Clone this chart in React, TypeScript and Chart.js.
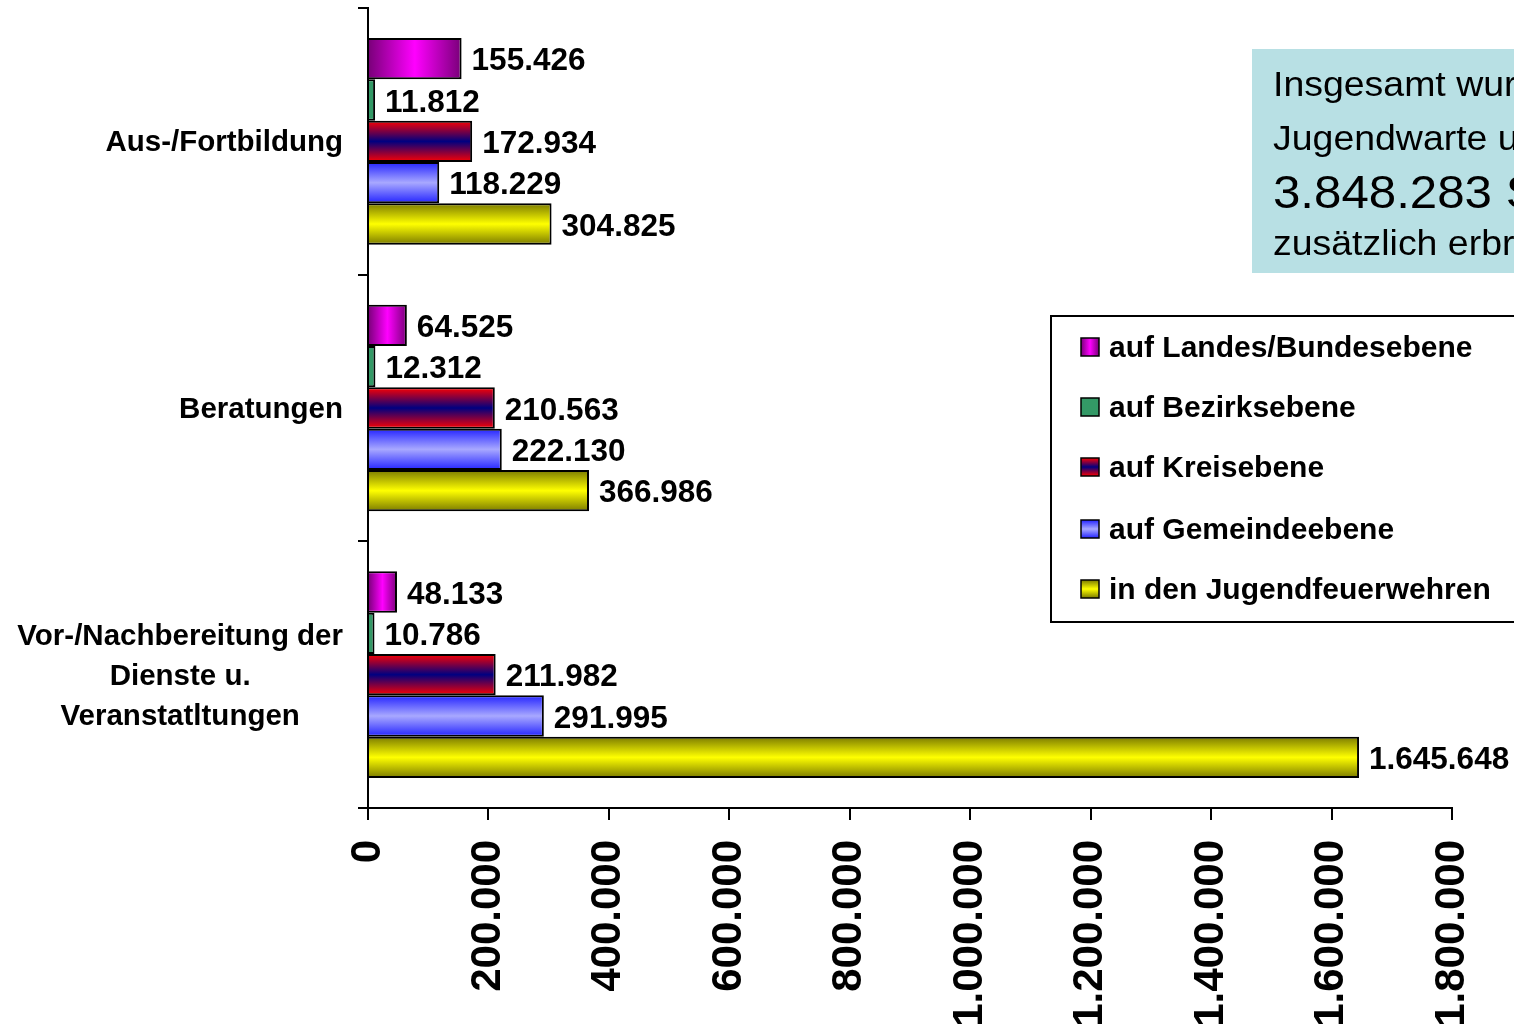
import React, { useEffect, useRef } from "react";
import { Chart, registerables } from "chart.js";

Chart.register(...registerables);

// ---------- data ----------
const categoryLines: string[][] = [
  ["Aus-/Fortbildung"],
  ["Beratungen"],
  ["Vor-/Nachbereitung der", "Dienste u.", "Veranstatltungen"],
];
const seriesNames = [
  "auf Landes/Bundesebene",
  "auf Bezirksebene",
  "auf Kreisebene",
  "auf Gemeindeebene",
  "in den Jugendfeuerwehren",
];
const landes = [155426, 64525, 48133];
const bezirk = [11812, 12312, 10786];
const kreis = [172934, 210563, 211982];
const gemeinde = [118229, 222130, 291995];
const jugendfw = [304825, 366986, 1645648];
const xMax = 1800000;
const xStep = 200000;
const infoLines = ["Insgesamt wurden", "Jugendwarte und", "3.848.283 Stunden", "zusätzlich erbracht"];

// ---------- styles ----------
const FONT = "'Liberation Sans', Arial, sans-serif";
const CAT_PCT = 0.775;
const seriesStyles = [
  { stops: ["#780078", "#ff00ff", "#780078"], dir: "h" },
  { stops: ["#339966", "#339966", "#339966"], dir: "v" },
  { stops: ["#ff0000", "#000080", "#ff0000"], dir: "v" },
  { stops: ["#2323ff", "#a8a8ff", "#2323ff"], dir: "v" },
  { stops: ["#7a7a00", "#ffff00", "#7a7a00"], dir: "v" },
];

const fmt = (n: number) => String(n).replace(/\B(?=(\d{3})+(?!\d))/g, ".");

function makeGradient(c: CanvasRenderingContext2D, stops: string[], x0: number, y0: number, x1: number, y1: number) {
  if (![x0, y0, x1, y1].every((v) => isFinite(v)) || (x0 === x1 && y0 === y1)) return stops[1];
  const g = c.createLinearGradient(x0, y0, x1, y1);
  g.addColorStop(0, stops[0]);
  g.addColorStop(0.5, stops[1]);
  g.addColorStop(1, stops[2]);
  return g;
}

function barFill(si: number) {
  return (ctx: any) => {
    const st = seriesStyles[si];
    if (ctx.type !== "data") return st.stops[1];
    const chart = ctx.chart;
    const ys = chart.scales?.y;
    const xs = chart.scales?.x;
    if (!ys || !xs) return st.stops[1];
    const band = Math.abs(ys.getPixelForValue(1) - ys.getPixelForValue(0));
    const center = ys.getPixelForValue(ctx.dataIndex);
    const size = band * CAT_PCT;
    const th = size / 5;
    const top = center - size / 2 + si * th;
    if (st.dir === "h") {
      const x0 = xs.getPixelForValue(0);
      const x1 = xs.getPixelForValue(ctx.raw as number);
      return makeGradient(chart.ctx, st.stops, x0, 0, x1, 0);
    }
    return makeGradient(chart.ctx, st.stops, 0, top, 0, top + th);
  };
}

const valueLabelPlugin = {
  id: "valueLabels",
  afterDatasetsDraw(chart: any) {
    const c = chart.ctx;
    c.save();
    c.font = `bold 31.5px ${FONT}`;
    c.fillStyle = "#000";
    c.textAlign = "left";
    c.textBaseline = "middle";
    chart.data.datasets.forEach((ds: any, di: number) => {
      const meta = chart.getDatasetMeta(di);
      meta.data.forEach((el: any, i: number) => {
        c.fillText(fmt(ds.data[i]), el.x + 10, el.y + 3);
      });
    });
    c.restore();
  },
};

const categoryLabelPlugin = {
  id: "categoryLabels",
  afterDraw(chart: any) {
    const c = chart.ctx;
    const ys = chart.scales.y;
    c.save();
    c.font = `bold 29.5px ${FONT}`;
    c.fillStyle = "#000";
    c.textBaseline = "middle";
    const right = 343;
    const lh = 40;
    categoryLines.forEach((lines, i) => {
      const cy = ys.getPixelForValue(i);
      const w = Math.max(...lines.map((l) => c.measureText(l).width));
      const cx = right - w / 2;
      c.textAlign = "center";
      lines.forEach((l, k) => {
        const y = cy + (k - (lines.length - 1) / 2) * lh + 2;
        c.fillText(l, cx, y);
      });
    });
    c.restore();
  },
};

const legendPlugin = {
  id: "customLegend",
  afterDraw(chart: any) {
    const c = chart.ctx;
    c.save();
    // info box
    c.fillStyle = "#b8e0e4";
    c.fillRect(1252, 49, 300, 224);
    c.fillStyle = "#000";
    c.textAlign = "left";
    c.textBaseline = "alphabetic";
    const infoFonts = [`35px ${FONT}`, `35px ${FONT}`, `46px ${FONT}`, `35px ${FONT}`];
    const infoBase = [96, 150, 208, 255];
    infoLines.forEach((t, i) => {
      c.save();
      c.font = infoFonts[i];
      c.translate(1273, infoBase[i]);
      c.scale(1.07, 1);
      c.fillText(t, 0, 0);
      c.restore();
    });
    // legend box
    c.fillStyle = "#fff";
    c.fillRect(1051, 316, 500, 306);
    c.strokeStyle = "#000";
    c.lineWidth = 2;
    c.strokeRect(1051, 316, 500, 306);
    const ys = [348, 408, 468, 530, 590];
    c.font = `bold 30px ${FONT}`;
    c.textBaseline = "middle";
    seriesNames.forEach((name, i) => {
      const y = ys[i];
      const st = seriesStyles[i];
      const x0 = 1081, s = 18, top = y - 10;
      c.fillStyle =
        st.dir === "h"
          ? makeGradient(c, st.stops, x0, 0, x0 + s, 0)
          : makeGradient(c, st.stops, 0, top, 0, top + s);
      c.fillRect(x0, top, s, s);
      c.strokeStyle = "#000";
      c.lineWidth = 1.5;
      c.strokeRect(x0, top, s, s);
      c.fillStyle = "#000";
      c.fillText(name, 1109, y + 1);
    });
    c.restore();
  },
};

export default function App() {
  const ref = useRef<HTMLCanvasElement>(null);
  useEffect(() => {
    if (!ref.current) return;
    const seriesData = [landes, bezirk, kreis, gemeinde, jugendfw];
    const chart = new Chart(ref.current, {
      type: "bar",
      data: {
        labels: categoryLines.map((l) => l.join(" ")),
        datasets: seriesData.map((d, i) => ({
          label: seriesNames[i],
          data: d,
          backgroundColor: barFill(i),
          borderColor: "#000",
          borderWidth: 2,
          categoryPercentage: CAT_PCT,
          barPercentage: 1,
        })),
      },
      options: {
        indexAxis: "y",
        responsive: false,
        animation: false,
        devicePixelRatio: 1,
        layout: { padding: { top: 8, right: 62, left: 0, bottom: 0 } },
        plugins: { legend: { display: false }, tooltip: { enabled: false } },
        scales: {
          x: {
            min: 0,
            max: xMax,
            afterFit: (s: any) => {
              s.height = 223;
              s.paddingLeft = 0;
              s.paddingRight = 0;
            },
            ticks: {
              stepSize: xStep,
              minRotation: 90,
              maxRotation: 90,
              autoSkip: false,
              padding: 20,
              color: "#000",
              font: { family: FONT, size: 42, weight: "bold" },
              callback: (v: any) => fmt(Number(v)),
            },
            grid: { drawOnChartArea: false, tickLength: 12, color: "#000", lineWidth: 2 },
            border: { display: true, color: "#000", width: 2 },
          },
          y: {
            afterFit: (s: any) => {
              s.width = 368;
              s.paddingTop = 0;
              s.paddingBottom = 0;
            },
            ticks: { display: false },
            grid: { drawOnChartArea: false, tickLength: 10, color: "#000", lineWidth: 2, offset: true },
            border: { display: true, color: "#000", width: 2 },
          },
        },
      },
      plugins: [valueLabelPlugin, categoryLabelPlugin, legendPlugin],
    });
    return () => chart.destroy();
  }, []);
  return (
    <canvas
      ref={ref}
      width={1514}
      height={1031}
      style={{ position: "fixed", left: 0, top: 0, width: 1514, height: 1031, background: "#fff" }}
    />
  );
}
